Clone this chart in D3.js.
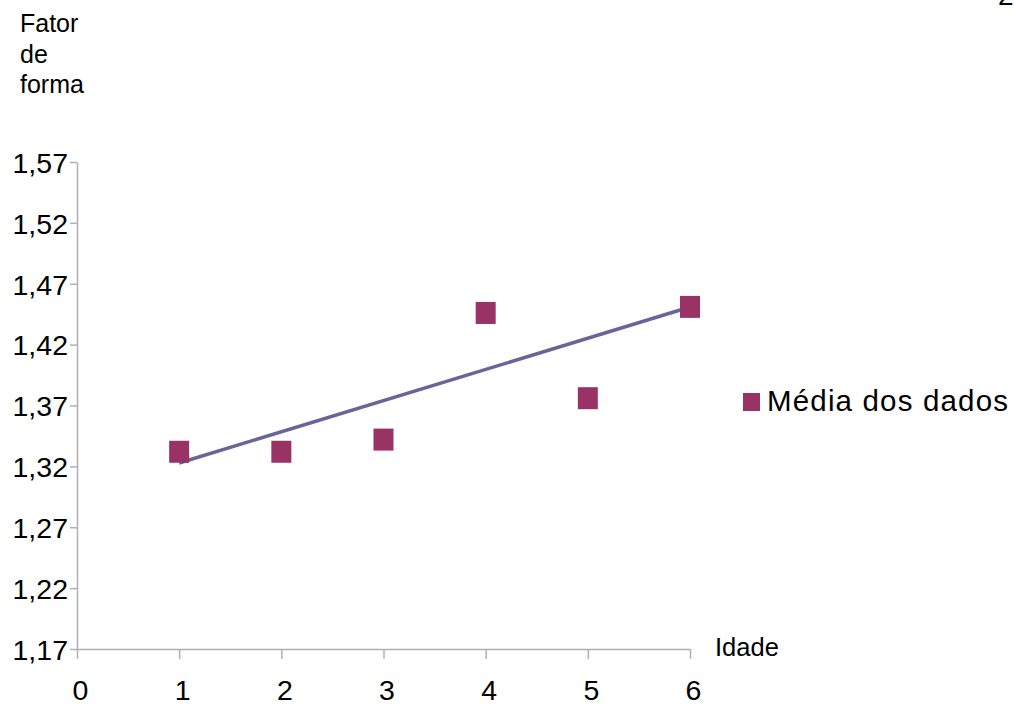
<!DOCTYPE html>
<html lang="pt">
<head>
    <meta charset="UTF-8">
    <script src="https://d3js.org/d3.v7.min.js"></script>
    <title>Fator de forma</title>
    <style>
        body { margin: 0; background: white; }
        text { font-family: "Liberation Sans", Arial, sans-serif; fill: black; }
        .axis path, .axis line { stroke: #b0b0b0; stroke-width: 1.5px; }
    </style>
</head>
<body>
    <div class="fig"></div>
    <script>
        // dados
        const idade = [1, 2, 3, 4, 5, 6];
        const mediaDados = [1.332, 1.332, 1.342, 1.446, 1.376, 1.451];
        const tendencia = [[1, 1.3228], [6, 1.4509]];
        const yTicks = [1.17, 1.22, 1.27, 1.32, 1.37, 1.42, 1.47, 1.52, 1.57];
        const xTicks = [0, 1, 2, 3, 4, 5, 6];

        const width = 1014, height = 707;

        const svg = d3.select(".fig").append("svg")
            .attr("width", width)
            .attr("height", height);

        const x = d3.scaleLinear().domain([0, 6]).range([77, 690]);
        const y = d3.scaleLinear().domain([1.17, 1.57]).range([649, 162]);

        const fmt = d => d3.format(".2f")(d).replace(".", ",");

        // eixo y
        const yAxis = svg.append("g")
            .attr("class", "axis")
            .attr("transform", `translate(${x(0)},0)`)
            .call(d3.axisLeft(y).tickValues(yTicks).tickFormat(fmt).tickSize(7).tickSizeOuter(0).tickPadding(2));
        yAxis.selectAll("text").style("font-size", "28.5px").attr("dy", "0.36em");

        // eixo x
        const xAxis = svg.append("g")
            .attr("class", "axis")
            .attr("transform", `translate(0,${y(1.17)})`)
            .call(d3.axisBottom(x).tickValues(xTicks).tickFormat(d3.format("d")).tickSize(10).tickSizeOuter(0).tickPadding(21));
        xAxis.selectAll("text").style("font-size", "28.5px").attr("dx", "3");

        // linha de tendencia
        svg.append("path")
            .datum(tendencia)
            .attr("d", d3.line().x(d => x(d[0])).y(d => y(d[1])))
            .attr("fill", "none")
            .attr("stroke", "#666699")
            .attr("stroke-width", 3.5);

        // pontos
        const mw = 20, mh = 22;
        svg.selectAll("rect.pt")
            .data(idade.map((d, i) => [d, mediaDados[i]]))
            .enter()
            .append("rect")
            .attr("class", "pt")
            .attr("x", d => x(d[0]) - mw / 2)
            .attr("y", d => y(d[1]) - mh / 2)
            .attr("width", mw)
            .attr("height", mh)
            .attr("fill", "#993366");

        // titulo do eixo y
        const ttl = svg.append("text")
            .attr("x", 20)
            .style("font-size", "25px");
        ["Fator", "de", "forma"].forEach((t, i) => {
            ttl.append("tspan").attr("x", 20).attr("y", 32 + i * 30.5).text(t);
        });

        // titulo do eixo x
        svg.append("text")
            .attr("x", 715)
            .attr("y", 656)
            .style("font-size", "25.5px")
            .text("Idade");

        // legenda
        svg.append("rect")
            .attr("x", 743)
            .attr("y", 393)
            .attr("width", 17)
            .attr("height", 18)
            .attr("fill", "#993366");
        svg.append("text")
            .attr("x", 767)
            .attr("y", 411)
            .attr("textLength", 241)
            .style("font-size", "29.5px")
            .text("Média dos dados");

        // numero de pagina (cortado)
        svg.append("text")
            .attr("x", 998)
            .attr("y", 5)
            .style("font-size", "28px")
            .text("2");
    </script>
</body>
</html>
